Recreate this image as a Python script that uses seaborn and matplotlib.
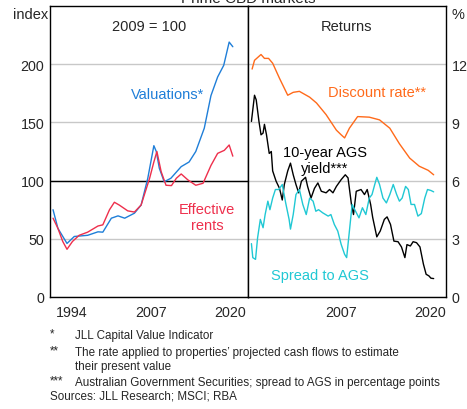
import numpy as np
import pandas as pd
import matplotlib
matplotlib.use("Agg")
import matplotlib.pyplot as plt
import seaborn as sns

sns.set_style("white")
plt.rcParams['font.family'] = ['Liberation Sans', 'DejaVu Sans']

# ---------------- data ----------------
val_year = [1991.4, 1992.2, 1993.7, 1994.9, 1997.1, 1998.8, 1999.6, 2001.0, 2002.1, 2003.2,
            2004.8, 2005.9, 2007.0, 2008.0, 2008.4, 2008.9, 2009.7, 2010.8, 2012.5, 2013.8,
            2014.9, 2016.3, 2017.4, 2018.5, 2019.5, 2020.4, 2021.0]
valuations = [75, 59, 46, 52, 53, 56, 55.7, 67.7, 69.7, 67.7,
              72, 79, 102, 130, 125, 110.6, 99, 102, 112, 116,
              125, 145, 173, 189, 199, 219, 215]

rent_year = [1991.4, 1992.2, 1993.0, 1993.7, 1994.6, 1995.7, 1997.1, 1998.8, 1999.6, 2000.7,
             2001.5, 2002.3, 2003.7, 2004.8, 2005.9, 2007.3, 2008.0, 2008.5, 2009.2, 2010.0,
             2010.9, 2011.7, 2012.5, 2013.6, 2014.9, 2016.1, 2017.4, 2018.5, 2019.6, 2020.4, 2021.0]
rents = [67.7, 59, 47.7, 41, 47.7, 53, 55.7, 61, 62, 75,
         81.4, 79, 74, 73, 79, 102, 116, 125, 107.7, 96,
         95.7, 102, 105.7, 100.6, 96, 97.7, 113, 123.4, 126, 130.6, 121]

disc_year = [1994.5, 1994.85, 1995.8, 1996.3, 1996.9, 1997.5, 1998.5, 1999.7, 2000.5, 2001.4,
             2002.9, 2003.9, 2005.3, 2006.8, 2007.5, 2008.0, 2008.7, 2009.9, 2011.6, 2013.1,
             2014.6, 2016.0, 2017.5, 2018.9, 2020.2, 2021.0]
discount = [11.75, 12.2, 12.5, 12.3, 12.3, 12.05, 11.27, 10.4, 10.55, 10.6,
            10.3, 10.0, 9.4, 8.6, 8.36, 8.2, 8.7, 9.3, 9.27, 9.13,
            8.7, 7.9, 7.16, 6.74, 6.53, 6.3]

ags_year = [1994.4, 1994.85, 1995.1, 1995.5, 1995.8, 1996.1, 1996.3, 1996.6, 1997.0, 1997.3,
            1997.5, 1998.0, 1998.5, 1998.9, 1999.2, 1999.7, 2000.1, 2000.5, 2000.9, 2001.3,
            2001.7, 2002.3, 2002.6, 2003.1, 2003.6, 2004.1, 2004.6, 2005.3, 2005.8, 2006.3,
            2006.8, 2007.5, 2008.1, 2008.5, 2009.0, 2009.3, 2009.7, 2010.4, 2010.9, 2011.3,
            2011.8, 2012.1, 2012.7, 2013.2, 2013.8, 2014.2, 2014.7, 2015.2, 2015.8, 2016.3,
            2016.8, 2017.1, 2017.6, 2018.0, 2018.5, 2019.0, 2019.5, 2019.9, 2020.3, 2020.6, 2021.0]
ags_yield = [9.05, 10.4, 10.16, 9.05, 8.36, 8.45, 8.9, 8.36, 7.4, 7.5,
             6.5, 5.97, 5.6, 5.0, 5.8, 6.5, 6.9, 6.3, 5.8, 5.37,
             5.97, 6.17, 5.7, 5.1, 5.6, 5.88, 5.45, 5.37, 5.54, 5.37,
             5.7, 6.05, 6.3, 6.14, 4.77, 4.25, 5.45, 5.54, 5.28, 5.54,
             4.77, 4.1, 3.1, 3.4, 4.0, 4.13, 3.74, 2.88, 2.85, 2.58,
             2.03, 2.7, 2.63, 2.85, 2.8, 2.58, 1.7, 1.17, 1.09, 0.97, 0.95]

spr_year = [1994.4, 1994.6, 1995.0, 1995.3, 1995.7, 1996.1, 1996.4, 1996.8, 1997.1, 1997.5,
            1997.9, 1998.4, 1998.9, 1999.4, 1999.9, 2000.1, 2000.5, 2000.9, 2001.4, 2001.9,
            2002.4, 2002.9, 2003.4, 2003.8, 2004.2, 2004.8, 2005.6, 2006.0, 2006.5, 2007.0,
            2007.5, 2008.0, 2008.3, 2008.7, 2009.1, 2009.6, 2010.1, 2010.6, 2011.1, 2011.6,
            2012.0, 2012.4, 2012.7, 2013.1, 2013.6, 2014.1, 2014.6, 2015.1, 2015.6, 2016.0,
            2016.4, 2016.9, 2017.3, 2017.7, 2018.2, 2018.7, 2019.2, 2019.7, 2020.1, 2020.6, 2021.0]
spread = [2.75, 2.03, 1.94, 3.05, 4.0, 3.57, 4.25, 4.94, 4.5, 5.1,
          5.54, 5.54, 5.8, 4.85, 4.0, 3.5, 4.25, 5.28, 5.54, 4.77,
          4.25, 5.1, 4.94, 4.42, 4.5, 4.34, 4.17, 4.25, 3.74, 3.4,
          2.71, 2.2, 2.03, 3.4, 4.77, 4.42, 4.08, 4.6, 4.25, 5.1,
          5.28, 5.8, 6.17, 5.8, 5.1, 4.85, 5.28, 5.8, 5.28, 4.94,
          5.1, 5.7, 5.54, 4.77, 4.77, 4.17, 4.3, 5.1, 5.54, 5.49, 5.42]

left_yticks = [0, 50, 100, 150, 200]
right_yticks = [0, 3, 6, 9, 12]
year_labels = [1994, 2007, 2020]

# ---------------- colours ----------------
BLUE = "#1f7ed8"
RED = "#ee2f4c"
ORANGE = "#ff6a1a"
CYAN = "#20c8d4"
GRID = "#c8c8c8"

fig = plt.figure(figsize=(4.67, 4.10), dpi=100)
axL = fig.add_axes([50/467, 1-298/410, 198/467, 291/410])
axR = fig.add_axes([248/467, 1-298/410, 198/467, 291/410])

LW = 1.0
sns.lineplot(x=val_year, y=valuations, ax=axL, color=BLUE, lw=LW)
sns.lineplot(x=rent_year, y=rents, ax=axL, color=RED, lw=LW)
sns.lineplot(x=disc_year, y=discount, ax=axR, color=ORANGE, lw=LW)
sns.lineplot(x=ags_year, y=ags_yield, ax=axR, color="black", lw=LW)
sns.lineplot(x=spr_year, y=spread, ax=axR, color=CYAN, lw=LW)

axL.set_xlim(1990.9, 2023.5)
axR.set_xlim(1993.9, 2022.8)
axL.set_ylim(0, 250)
axR.set_ylim(0, 15)

for ax, ticks, lo, hi in [(axL, left_yticks, 1991, 2023), (axR, right_yticks, 1994, 2022)]:
    ax.set_yticks(ticks)
    ax.yaxis.grid(True, color=GRID, lw=1.0)
    ax.set_axisbelow(True)
    ax.set_xticks([y + 0.5 for y in year_labels])
    ax.set_xticklabels([str(y) for y in year_labels])
    ax.set_xticks(list(range(lo, hi + 1)), minor=True)
    ax.tick_params(axis='x', which='major', length=0, pad=6, labelsize=10.3)
    ax.tick_params(axis='x', which='minor', direction='in', length=4, width=0.8, color='black')
    ax.tick_params(axis='y', length=0, labelsize=10.3, pad=4)
    for s in ax.spines.values():
        s.set_color('black')
        s.set_linewidth(1.0)
    ax.set_xlabel("")
    ax.set_ylabel("")

axL.axhline(100, color='black', lw=1.0, zorder=1.5)
axR.yaxis.tick_right()
axR.set_xticklabels(["", "2007", "2020"])

# titles and labels
TS = 10.5
axL.text(0.5, 0.93, "2009 = 100", transform=axL.transAxes, ha='center', va='center', fontsize=TS)
axR.text(0.5, 0.93, "Returns", transform=axR.transAxes, ha='center', va='center', fontsize=TS)
fig.text(48/467, 1-15/410, "index", ha='right', va='center', fontsize=TS)
fig.text(451/467, 1-15/410, "%", ha='left', va='center', fontsize=TS)
fig.text(248/467, 1+1/410, "Prime CBD markets", ha='center', va='center', fontsize=11)

fig.text(168/467, 1-95/410, "Valuations*", color=BLUE, ha='center', va='center', fontsize=TS)
fig.text(207/467, 1-218/410, "Effective\nrents", color=RED, ha='center', va='center',
         fontsize=TS, linespacing=1.1)
fig.text(377/467, 1-93/410, "Discount rate**", color=ORANGE, ha='center', va='center', fontsize=TS)
fig.text(325/467, 1-161/410, "10-year AGS\nyield***", color='black', ha='center', va='center',
         fontsize=TS, linespacing=1.1)
fig.text(320/467, 1-276/410, "Spread to AGS", color=CYAN, ha='center', va='center', fontsize=TS)

# footnotes
fs = 8.4
fig.text(50/467, 1-334/410, "*", ha='left', va='center', fontsize=fs)
fig.text(75/467, 1-336/410, "JLL Capital Value Indicator", ha='left', va='center', fontsize=fs)
fig.text(50/467, 1-351/410, "**", ha='left', va='center', fontsize=fs)
fig.text(75/467, 1-353/410, "The rate applied to properties\u2019 projected cash flows to estimate",
         ha='left', va='center', fontsize=fs)
fig.text(75/467, 1-367/410, "their present value", ha='left', va='center', fontsize=fs)
fig.text(50/467, 1-381/410, "***", ha='left', va='center', fontsize=fs)
fig.text(75/467, 1-383/410, "Australian Government Securities; spread to AGS in percentage points",
         ha='left', va='center', fontsize=fs)
fig.text(50/467, 1-397/410, "Sources: JLL Research; MSCI; RBA", ha='left', va='center', fontsize=fs)

fig.savefig("out.png", dpi=100)
